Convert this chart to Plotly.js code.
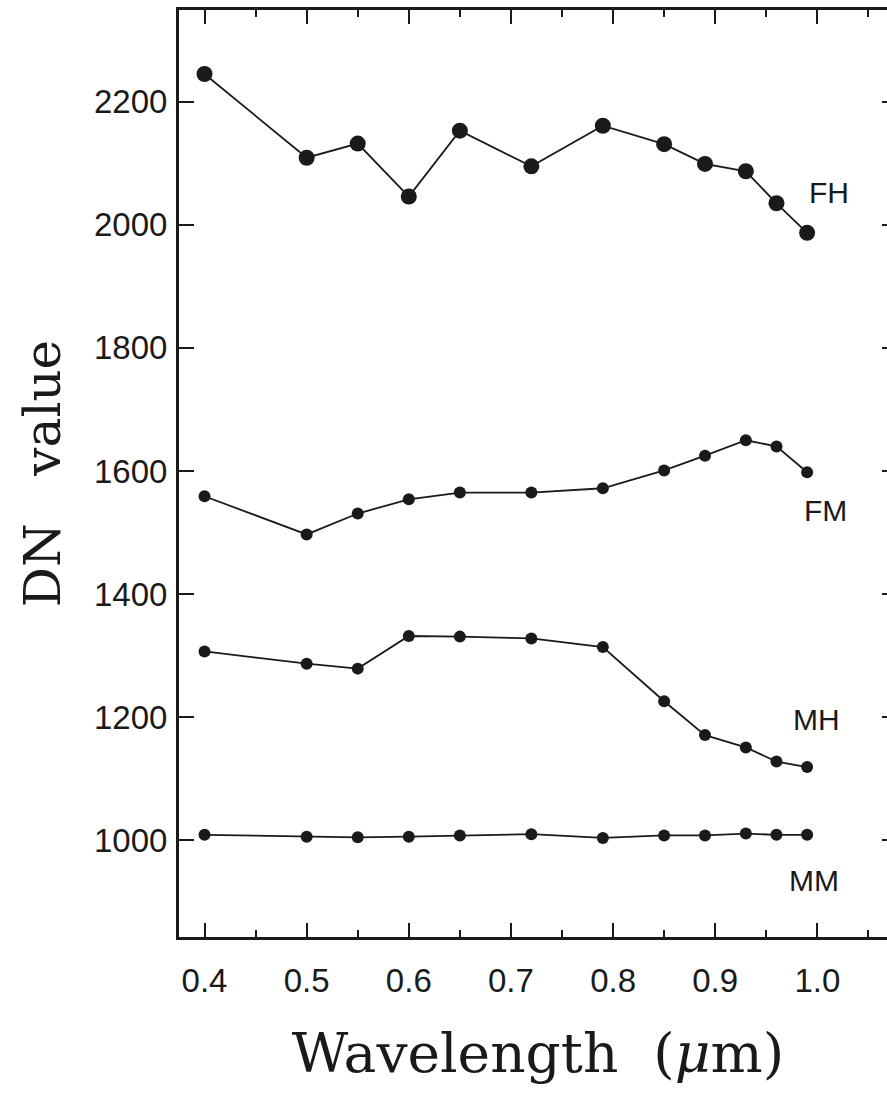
<!DOCTYPE html>
<html>
<head>
<meta charset="utf-8">
<script src="https://cdn.plot.ly/plotly-3.0.1.min.js"></script>
<style>html,body{margin:0;padding:0;overflow:hidden;background:#fff;}#chart{width:900px;height:1095px;}</style>
</head>
<body>
<div id="chart"></div>
<script>
// Wavelength (µm)
const wavelength = [0.40, 0.50, 0.55, 0.60, 0.65, 0.72, 0.79, 0.85, 0.89, 0.93, 0.96, 0.99];
// DN values per series
const FH = [2245, 2109, 2132, 2046, 2153, 2095, 2161, 2131, 2099, 2087, 2035, 1987];
const FM = [1559, 1497, 1531, 1554, 1565, 1565, 1572, 1601, 1625, 1650, 1640, 1598];
const MH = [1307, 1287, 1279, 1332, 1331, 1328, 1314, 1226, 1171, 1151, 1128, 1119];
const MM = [1009, 1006, 1005, 1006, 1008, 1010, 1004, 1008, 1008, 1011, 1009, 1009];
const seriesNames = ["FH", "FM", "MH", "MM"];
// label anchor positions (data units, left edge of text)
const labelX = [0.9896, 0.9847, 0.9745, 0.9705];
const labelY = [2053, 1536, 1197, 935];

const ink = "#1a1a1a";
function tr(y, name, msize) {
  return {x: wavelength, y: y, name: name, type: "scatter", mode: "lines+markers",
    line: {color: ink, width: 1.8}, marker: {color: ink, size: msize}, showlegend: false};
}
const data = [tr(FH, "FH", 16), tr(FM, "FM", 12), tr(MH, "MH", 12), tr(MM, "MM", 12)];

const annotations = seriesNames.map((n, i) => ({
  x: labelX[i], y: labelY[i], xref: "x", yref: "y", text: n, showarrow: false,
  xanchor: "left", yanchor: "middle",
  font: {family: "Liberation Sans, Arial, sans-serif", size: 30, color: ink}
}));

const layout = {
  width: 900, height: 1095,
  margin: {l: 179, r: 3, t: 10, b: 158},
  paper_bgcolor: "#fff", plot_bgcolor: "#fff",
  showlegend: false,
  font: {family: "Liberation Sans, Arial, sans-serif", color: ink},
  xaxis: {
    range: [0.375, 1.078], tickvals: [0.4,0.5,0.6,0.7,0.8,0.9,1.0],
    ticktext: ["0.4","0.5","0.6","0.7","0.8","0.9","1.0"],
    ticks: "inside", ticklen: 14, tickwidth: 2, tickcolor: ink,
    minor: {dtick: 0.05, tick0: 0.35, ticks: "inside", ticklen: 7, tickwidth: 2, tickcolor: ink, showgrid: false},
    showline: true, linewidth: 3, linecolor: ink, mirror: "ticks",
    showgrid: false, zeroline: false,
    tickfont: {size: 33, color: ink}, ticklabelstandoff: 12,
    title: {text: "Wavelength  (<i>μ</i>m)", standoff: 36,
      font: {family: "DejaVu Serif, serif", size: 55, color: ink}}
  },
  yaxis: {
    range: [843, 2349], tickvals: [1000,1200,1400,1600,1800,2000,2200],
    ticks: "inside", ticklen: 15, tickwidth: 2, tickcolor: ink,
    showline: true, linewidth: 3, linecolor: ink, mirror: "ticks",
    showgrid: false, zeroline: false,
    tickfont: {size: 33, color: ink}, ticklabelstandoff: 2,
    title: {text: "DN   value", standoff: 18,
      font: {family: "DejaVu Serif, serif", size: 50, color: ink}}
  },
  annotations: annotations
};
Plotly.newPlot("chart", data, layout, {displayModeBar: false, staticPlot: true});
</script>
</body>
</html>
